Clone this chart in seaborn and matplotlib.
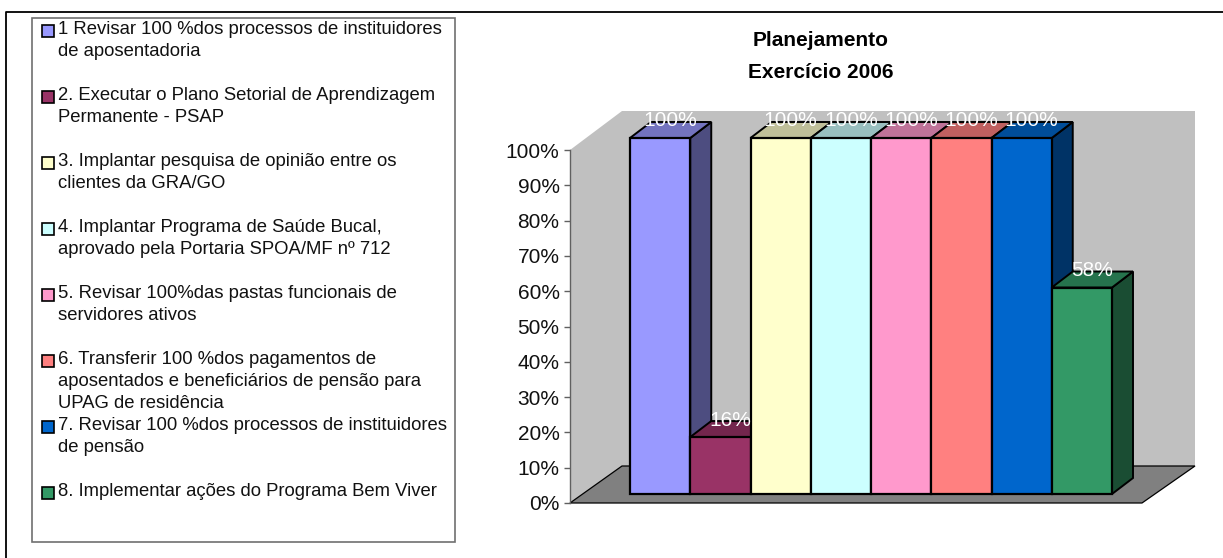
import matplotlib
matplotlib.use("Agg")
import matplotlib.pyplot as plt
import seaborn as sns
from matplotlib.patches import Polygon, Rectangle
from matplotlib.transforms import IdentityTransform
from matplotlib.colors import to_rgb

sns.set_theme(style="white")
plt.rcParams["font.family"] = ["Liberation Sans", "DejaVu Sans"]

categories = ["1", "2", "3", "4", "5", "6", "7", "8"]
values = [100, 16, 100, 100, 100, 100, 100, 58]
colors = ["#9999FF", "#993366", "#FFFFCC", "#CCFFFF", "#FF99CC", "#FF8080", "#0066CC", "#339966"]
y_ticks = [0, 10, 20, 30, 40, 50, 60, 70, 80, 90, 100]
title_lines = ["Planejamento", "Exercício 2006"]
legend_labels = [
    "1 Revisar 100 %dos processos de instituidores\nde aposentadoria",
    "2. Executar o Plano Setorial de Aprendizagem\nPermanente - PSAP",
    "3. Implantar pesquisa de opinião entre os\nclientes da GRA/GO",
    "4. Implantar Programa de Saúde Bucal,\naprovado pela Portaria SPOA/MF nº 712",
    "5. Revisar 100%das pastas funcionais de\nservidores ativos",
    "6. Transferir 100 %dos pagamentos de\naposentados e beneficiários de pensão para\nUPAG de residência",
    "7. Revisar 100 %dos processos de instituidores\nde pensão",
    "8. Implementar ações do Programa Bem Viver",
]

W, H = 1223, 558
DEPTH_X, DEPTH_Y = 21, 16
fig = plt.figure(figsize=(W / 100, H / 100), dpi=100, facecolor="white")


def box(left, top, right, bottom):
    return [left / W, (H - bottom) / H, (right - left) / W, (bottom - top) / H]


def shade(color, k):
    return tuple(c * k for c in to_rgb(color))


# background, walls, floor and legend box in pixel coordinates
bg = fig.add_axes([0, 0, 1, 1])
bg.set_xlim(0, W)
bg.set_ylim(H, 0)
bg.axis("off")
bg.plot([6, 6, W], [H, 11.5, 11.5], color="black", lw=1.3)
bg.add_patch(Polygon([(570, 150), (622, 111), (622, 466), (570, 503)], fc="#C0C0C0", ec="none"))
bg.add_patch(Polygon([(622, 111), (1195, 111), (1195, 466), (622, 466)], fc="#C0C0C0", ec="none"))
bg.add_patch(Polygon([(570, 503), (622, 466), (1195, 466), (1142, 503)], fc="#808080", ec="black", lw=0.9))
bg.add_patch(Rectangle((31.5, 17.5), 423, 524, fc="white", ec="#707070", lw=1.2))

for line, y in zip(title_lines, [41, 72]):
    bg.text(820.5, y, line, ha="center", va="center", fontsize=15, fontweight="bold", color="black")

row = 0
for label, color in zip(legend_labels, colors):
    n_lines = label.count("\n") + 1
    y = 29.5 + row * 22
    bg.add_patch(Rectangle((42, y - 5), 12, 12, fc=color, ec="black", lw=1.2))
    for i, part in enumerate(label.split("\n")):
        bg.text(58, y + i * 21.8, part, ha="left", va="center", fontsize=13.3, color="#111111")
    row += 3

# y axis
ax_y = fig.add_axes(box(570, 150, 572, 503))
ax_y.patch.set_visible(False)
ax_y.set_ylim(0, 100)
ax_y.set_xticks([])
ax_y.set_yticks(y_ticks)
ax_y.set_yticklabels([f"{t}%" for t in y_ticks], fontsize=15, color="#111111")
ax_y.tick_params(axis="y", left=True, length=4.5, width=1, color="#606060", pad=3)
for name in ["top", "right", "bottom"]:
    ax_y.spines[name].set_visible(False)
ax_y.spines["left"].set_color("#606060")
ax_y.spines["left"].set_linewidth(1)

# bars
ax = fig.add_axes(box(630, 138, 1112, 494))
ax.patch.set_visible(False)
sns.barplot(x=categories, y=values, hue=categories, palette=colors, width=1, saturation=1,
            legend=False, edgecolor="black", linewidth=1.6, ax=ax)
ax.set_xlim(-0.5, 7.5)
ax.set_ylim(0, 100)
ax.axis("off")

for i, (patch, value, color) in enumerate(zip(list(ax.patches), values, colors)):
    patch.set_clip_on(False)
    patch.set_zorder(10 + i * 2 + 1)
    x0, x1 = patch.get_x(), patch.get_x() + patch.get_width()
    (px0, py0), (px1, py1) = ax.transData.transform([(x0, 0), (x1, value)])
    side = [(px1, py0), (px1, py1), (px1 + DEPTH_X, py1 + DEPTH_Y), (px1 + DEPTH_X, py0 + DEPTH_Y)]
    top = [(px0, py1), (px1, py1), (px1 + DEPTH_X, py1 + DEPTH_Y), (px0 + DEPTH_X, py1 + DEPTH_Y)]
    for pts, k in [(side, 0.5), (top, 0.75)]:
        ax.add_patch(Polygon(pts, transform=IdentityTransform(), fc=shade(color, k), ec="black",
                             lw=1.4, clip_on=False, zorder=10 + i * 2))
    ax.annotate(f"{value}%", ((x0 + x1) / 2, value), xytext=(10, 17), textcoords="offset pixels",
                ha="center", va="center", fontsize=15, color="white", zorder=100, annotation_clip=False)

fig.savefig("out.png", dpi=100)
